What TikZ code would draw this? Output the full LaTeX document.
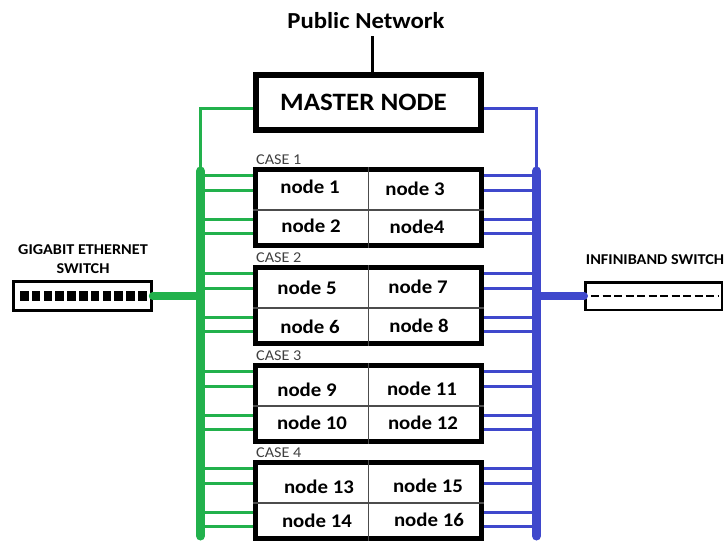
\documentclass[tikz,border=0pt]{standalone}
\usepackage{fontspec}
\setmainfont{Carlito}[FakeStretch=1.08]
\definecolor{gbe}{RGB}{34,177,76}
\definecolor{ib}{RGB}{63,72,204}
\tikzstyle{masterbox}=[draw,line width=5.5pt,minimum width=225pt,minimum height=55pt,inner sep=0pt,font=\fontsize{25}{30}\selectfont\bfseries]
\tikzstyle{casebox}=[draw,line width=5pt,minimum width=226pt,minimum height=76pt,inner sep=0pt]
\tikzstyle{cell}=[inner sep=0pt,font=\fontsize{19.3}{22}\selectfont\bfseries]
\tikzstyle{caselabel}=[anchor=base west,inner sep=0pt,text=black!75,font=\fontsize{15}{16}\selectfont]
\tikzstyle{swlabel}=[align=center,inner sep=0pt,font=\fontsize{15}{19}\selectfont\bfseries]
\tikzstyle{switchbox}=[draw,line width=2.5pt,minimum width=138pt,minimum height=29pt,inner sep=0pt]
\tikzstyle{divider}=[draw=black!70,line width=1.5pt]
\tikzstyle{gline}=[gbe,line width=3pt]
\tikzstyle{bline}=[ib,line width=3pt]
\tikzstyle{gbus}=[gbe,line width=9pt,line cap=round]
\tikzstyle{bbus}=[ib,line width=9pt,line cap=round]

\begin{document}
\begin{tikzpicture}[x=1pt,y=-1pt]
\useasboundingbox (0,0) rectangle (726,541);

\node[inner sep=0pt,font=\fontsize{22.9}{26}\selectfont\bfseries] (public) at (366,21) {Public Network};
\node[masterbox] (master) at (368.5,102.5) {MASTER NODE\hspace*{10pt}};
\coordinate (pub) at (372.5,36);
\draw[line width=3pt] (pub) -- (pub |- master.north);

\node[casebox] (case1) at (368.5,207.5) {};
\node[casebox] (case2) at (368.5,305.5) {};
\node[casebox] (case3) at (368.5,403.5) {};
\node[casebox] (case4) at (368.5,500.5) {};

\foreach \c in {1,...,4} {
  \node[caselabel] at ([xshift=3pt,yshift=3pt]case\c.north west) {CASE \c};
  \draw[divider] (case\c.north) -- (case\c.south);
  \draw[divider] ([yshift=-2.5pt]case\c.west) -- ([yshift=-2.5pt]case\c.east);
}

\node[cell] (n1) at (310,187) {node 1};
\node[cell] (n2) at (311,226) {node 2};
\node[cell] (n3) at (415,189) {node 3};
\node[cell] (n4) at (417,227) {node4};
\node[cell] (n5) at (307,288) {node 5};
\node[cell] (n6) at (310,327) {node 6};
\node[cell] (n7) at (418,287) {node 7};
\node[cell] (n8) at (419,326) {node 8};
\node[cell] (n9) at (307,390) {node 9};
\node[cell] (n10) at (312,423) {node 10};
\node[cell] (n11) at (422,389) {node 11};
\node[cell] (n12) at (423,423) {node 12};
\node[cell] (n13) at (319,487) {node 13};
\node[cell] (n14) at (317,521) {node 14};
\node[cell] (n15) at (428,486) {node 15};
\node[cell] (n16) at (429,520) {node 16};

\coordinate (gtop) at (200.5,171);
\coordinate (gbot) at (200.5,536);
\coordinate (btop) at (536.5,171);
\coordinate (bbot) at (536.5,536);

\draw[gline] ([yshift=-5.5pt]master.west) -| (gtop);
\draw[bline] ([yshift=-5.5pt]master.east) -| (btop);
\draw[gbus] (gtop) -- (gbot);
\draw[bbus] (btop) -- (bbot);

\foreach \c in {1,...,4}
  \foreach \o in {8.5,23.5,52,66.5} {
    \draw[gline] (case\c.north west) ++(0,\o) -- ++(-55,0);
    \draw[bline] (case\c.north east) ++(0,\o) -- ++(55,0);
  }

\node[swlabel] (gswlabel) at (83,259.5) {GIGABIT ETHERNET\\SWITCH};
\node[switchbox] (gsw) at (82.5,296) {};
\foreach \i in {0,...,10}
  \fill (20+\i*11.8,291) rectangle ++(8.5,9.5);

\node[swlabel] (iswlabel) at (655,260) {INFINIBAND SWITCH};
\node[switchbox,minimum width=136.5pt,minimum height=27.5pt] (isw) at (653.5,296) {};
\draw[line width=2.5pt,dash pattern=on 8pt off 3.5pt] (591,296) -- (718,296);

\draw[gbe,line width=8pt,line cap=round] (gsw.east) -- (gsw.east -| gtop);
\draw[ib,line width=8pt,line cap=round] (isw.west) -- (isw.west -| btop);

\end{tikzpicture}
\end{document}
